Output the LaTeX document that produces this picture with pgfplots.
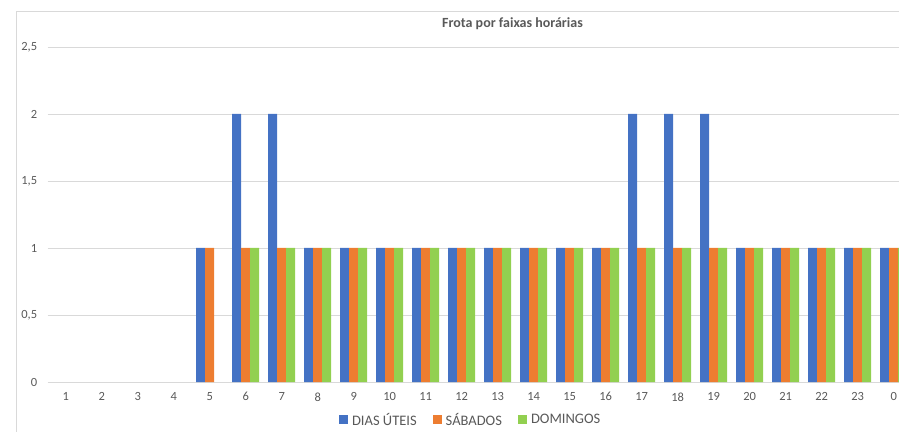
\documentclass[border=0pt]{standalone}
\usepackage{pgfplots}
\pgfplotsset{compat=1.18}
\usepackage{fontspec}
\setmainfont{Carlito}
\definecolor{cblue}{HTML}{4472C4}
\definecolor{corange}{HTML}{ED7D31}
\definecolor{cgreen}{HTML}{92D050}
\definecolor{cgrid}{HTML}{D9D9D9}
\definecolor{ctext}{HTML}{595959}
\begin{document}
\begin{tikzpicture}[x=1pt,y=1pt]
\useasboundingbox (0,0) rectangle (899,431);
\clip (0,0) rectangle (899,431);
\draw[cgrid, line width=0.8pt] (16,419.5) rectangle (1000,-20);
\begin{axis}[
  at={(47.7pt,49pt)}, anchor=south west,
  scale only axis, width=864pt, height=335pt,
  xmin=0.5, xmax=24.5, ymin=0, ymax=2.5,
  axis line style={draw=none},
  ybar, bar width=0.25,
  xtick={1,...,24},
  xticklabels={1,2,3,4,5,6,7,8,9,10,11,12,13,14,15,16,17,18,19,20,21,22,23,0},
  ytick={0,0.5,1,1.5,2,2.5},
  yticklabels={0,{0,5},1,{1,5},2,{2,5}},
  major tick length=0pt,
  ymajorgrids, grid style={cgrid, line width=0.8pt},
  tick label style={font=\fontsize{12.5}{14}\selectfont, text=ctext},
  yticklabel style={xshift=-7pt},
  xticklabel style={yshift=-7pt},
  /pgf/number format/assume math mode=true,
  title={\textbf{Frota por faixas horárias}},
  title style={at={(rel axis cs:0.538,1.0507)}, anchor=center, font=\fontsize{14}{16}\selectfont, text=ctext},
  legend style={at={(rel axis cs:0.4896,-0.1134)}, anchor=center, draw=none, legend columns=-1,
    font=\fontsize{14.5}{16}\selectfont, text=ctext, inner sep=0pt,
    /tikz/every odd column/.append style={column sep=2pt},
    /tikz/every even column/.append style={column sep=14pt}},
  legend image code/.code={\fill[#1] (0pt,-4.5pt) rectangle (9pt,4.5pt);},
]
\addplot[fill=cblue, draw=none, bar shift=-0.25] coordinates {
(5,1) (6,2) (7,2) (8,1) (9,1) (10,1) (11,1) (12,1)
(13,1) (14,1) (15,1) (16,1) (17,2) (18,2) (19,2) (20,1) (21,1) (22,1) (23,1) (24,1)};
\addplot[fill=corange, draw=none, bar shift=0] coordinates {
(5,1) (6,1) (7,1) (8,1) (9,1) (10,1) (11,1) (12,1)
(13,1) (14,1) (15,1) (16,1) (17,1) (18,1) (19,1) (20,1) (21,1) (22,1) (23,1) (24,1)};
\addplot[fill=cgreen, draw=none, bar shift=0.25] coordinates {
(6,1) (7,1) (8,1) (9,1) (10,1) (11,1) (12,1)
(13,1) (14,1) (15,1) (16,1) (17,1) (18,1) (19,1) (20,1) (21,1) (22,1) (23,1) (24,1)};
\legend{DIAS ÚTEIS, SÁBADOS, DOMINGOS}
\end{axis}
\end{tikzpicture}
\end{document}
